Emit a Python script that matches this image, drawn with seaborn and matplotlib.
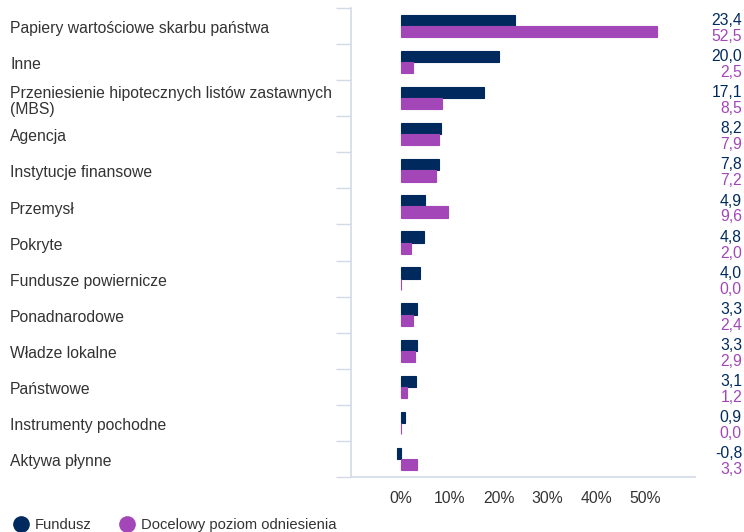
import pandas as pd
import matplotlib.pyplot as plt
import seaborn as sns
from matplotlib.lines import Line2D
from matplotlib.transforms import blended_transform_factory

# data
categories = [
    "Papiery wartościowe skarbu państwa",
    "Inne",
    "Przeniesienie hipotecznych listów zastawnych\n(MBS)",
    "Agencja",
    "Instytucje finansowe",
    "Przemysł",
    "Pokryte",
    "Fundusze powiernicze",
    "Ponadnarodowe",
    "Władze lokalne",
    "Państwowe",
    "Instrumenty pochodne",
    "Aktywa płynne",
]
fund = [23.4, 20.0, 17.1, 8.2, 7.8, 4.9, 4.8, 4.0, 3.3, 3.3, 3.1, 0.9, -0.8]
benchmark = [52.5, 2.5, 8.5, 7.9, 7.2, 9.6, 2.0, 0.0, 2.4, 2.9, 1.2, 0.0, 3.3]
series_names = ["Fundusz", "Docelowy poziom odniesienia"]
x_ticks = [0, 10, 20, 30, 40, 50]

NAVY = "#002A5E"
PURPLE = "#A346B8"
LINE = "#D3DAE6"
TEXT = "#333333"
FS = 11.3

sns.set_theme(style="white")
plt.rcParams["font.family"] = ["Liberation Sans", "DejaVu Sans"]

df = pd.DataFrame({
    "category": categories * 2,
    "series": [series_names[0]] * len(categories) + [series_names[1]] * len(categories),
    "value": fund + benchmark,
})

fig = plt.figure(figsize=(7.44, 5.32), dpi=100)
ax = fig.add_axes([351 / 744, 55 / 532, 344 / 744, 469 / 532])

sns.barplot(data=df, y="category", x="value", hue="series", orient="h",
            palette=[NAVY, PURPLE], width=0.62, dodge=True, legend=False,
            saturation=1, ax=ax)

# thin outline in bar colour so 0.0 bars still show as a sliver
for p in ax.patches:
    p.set_edgecolor(p.get_facecolor())
    p.set_linewidth(0.8)

ax.set_xlim(-10.2, 60.2)
ax.set_ylim(len(categories) - 0.5, -0.5)
ax.set_xticks(x_ticks)
ax.set_xticklabels([f"{t}%" for t in x_ticks], color=TEXT, fontsize=FS)
ax.set_xlabel("")
ax.set_ylabel("")
ax.set_yticks([])
ax.set_yticks([i - 0.5 for i in range(len(categories) + 1)], minor=True)
ax.tick_params(axis="y", which="minor", length=11, color=LINE, width=1, left=True)
ax.tick_params(axis="x", length=0, pad=10)

for side in ["top", "right"]:
    ax.spines[side].set_visible(False)
for side in ["left", "bottom"]:
    ax.spines[side].set_color(LINE)
    ax.spines[side].set_linewidth(1.2)

# category labels on the far left
trans = blended_transform_factory(fig.transFigure, ax.transData)
for i, cat in enumerate(categories):
    multi = "\n" in cat
    ax.text(10 / 744, i + (0.09 if multi else 0.03), cat, transform=trans, ha="left",
            va="center" if multi else "center_baseline",
            fontsize=FS, color=TEXT, linespacing=1.05)

# value labels on the right
for i, (f, b) in enumerate(zip(fund, benchmark)):
    ax.text(742 / 744, i - 0.19, f"{f:.1f}".replace(".", ","), transform=trans,
            ha="right", va="center_baseline", fontsize=FS, color=NAVY)
    ax.text(742 / 744, i + 0.25, f"{b:.1f}".replace(".", ","), transform=trans,
            ha="right", va="center_baseline", fontsize=FS, color=PURPLE)

handles = [Line2D([], [], marker="o", linestyle="", markersize=11,
                  markerfacecolor=c, markeredgecolor=c) for c in (NAVY, PURPLE)]
fig.legend(handles, series_names, loc="lower left", bbox_to_anchor=(0.0, -0.025),
           ncol=2, frameon=False, fontsize=10.6, handlelength=1.0, handletextpad=0.45,
           columnspacing=1.9, labelcolor=TEXT)

fig.savefig("out.png", dpi=100)
